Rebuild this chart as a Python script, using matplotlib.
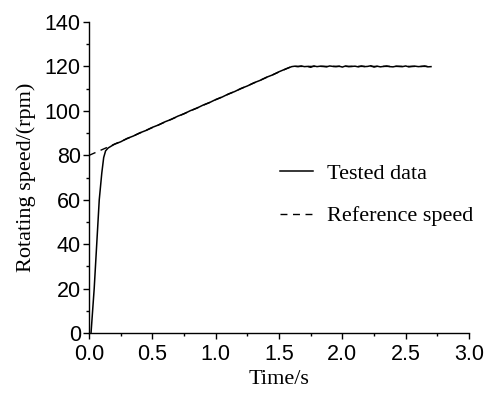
import matplotlib
matplotlib.use("Agg")
import matplotlib.pyplot as plt

# reference speed profile
ref_t = [0.0, 1.6, 2.7]
ref_v = [80.0, 120.0, 120.0]

# tested data
test_t = [0.015, 0.04, 0.06, 0.08, 0.10, 0.115, 0.13, 0.15,
          0.20, 0.25, 0.30, 0.35, 0.40, 0.45, 0.50, 0.55, 0.60, 0.65,
          0.70, 0.75, 0.80, 0.85, 0.90, 0.95, 1.00, 1.05, 1.10, 1.15,
          1.20, 1.25, 1.30, 1.35, 1.40, 1.45, 1.50, 1.55, 1.60,
          1.625, 1.65, 1.675, 1.70, 1.725, 1.75, 1.775, 1.80, 1.825, 1.85,
          1.875, 1.90, 1.925, 1.95, 1.975, 2.00, 2.025, 2.05, 2.075, 2.10,
          2.125, 2.15, 2.175, 2.20, 2.225, 2.25, 2.275, 2.30, 2.325, 2.35,
          2.375, 2.40, 2.425, 2.45, 2.475, 2.50, 2.525, 2.55, 2.575, 2.60,
          2.625, 2.65, 2.675, 2.70]
test_v = [0.0, 20.0, 40.0, 60.0, 72.0, 79.0, 82.0, 83.3,
          85.0, 86.1, 87.6, 88.7, 90.1, 91.2, 92.6, 93.7, 95.1, 96.2,
          97.6, 98.7, 100.1, 101.2, 102.6, 103.7, 105.1, 106.2, 107.6, 108.7,
          110.1, 111.2, 112.6, 113.7, 115.1, 116.2, 117.6, 118.8, 119.9,
          120.1, 119.9, 120.2, 119.9, 120.0, 119.6, 120.2, 119.9, 120.1, 120.0,
          119.8, 120.2, 120.0, 119.9, 120.1, 119.7, 120.2, 119.9, 120.0, 120.1,
          119.8, 120.2, 119.9, 120.0, 120.3, 119.7, 120.1, 119.8, 120.0, 120.2,
          119.9, 119.8, 120.1, 120.0, 119.9, 120.2, 119.8, 120.0, 120.1, 119.9,
          120.0, 120.2, 119.8, 119.9]

x_ticks = [0.0, 0.5, 1.0, 1.5, 2.0, 2.5, 3.0]
y_ticks = [0, 20, 40, 60, 80, 100, 120, 140]

sans = "Liberation Sans"
serif = "Liberation Serif"

fig = plt.figure(figsize=(4.87, 3.99), dpi=100)
ax = fig.add_axes([0.183, 0.165, 0.780, 0.780])

ax.plot(ref_t, ref_v, color="black", lw=1.0, ls=(0, (5, 4)), label="Reference speed", zorder=2)
ax.plot(test_t, test_v, color="black", lw=1.1, label="Tested data", zorder=3)

ax.set_xlim(0, 3.0)
ax.set_ylim(0, 140)
ax.set_xticks(x_ticks)
ax.set_yticks(y_ticks)
ax.set_xticklabels(["%.1f" % v for v in x_ticks], family=sans, fontsize=15.5)
ax.set_yticklabels([str(v) for v in y_ticks], family=sans, fontsize=15.5)
ax.set_xticks([0.25, 0.75, 1.25, 1.75, 2.25, 2.75], minor=True)
ax.set_yticks([10, 30, 50, 70, 90, 110, 130], minor=True)

for s in ["top", "right"]:
    ax.spines[s].set_visible(False)
for s in ["left", "bottom"]:
    ax.spines[s].set_linewidth(1.0)

ax.tick_params(which="major", direction="out", length=4.5, width=1.0)
ax.tick_params(which="minor", direction="out", length=2.5, width=1.0)
ax.tick_params(axis="y", pad=1.5)
ax.tick_params(axis="x", pad=3)

ax.set_xlabel("Time/s", family=serif, fontsize=16, labelpad=4)
ax.set_ylabel("Rotating speed/(rpm)", family=serif, fontsize=16, labelpad=6)

handles, labels = ax.get_legend_handles_labels()
leg = ax.legend(handles[::-1], labels[::-1], loc="upper left", bbox_to_anchor=(0.473, 0.582),
                frameon=False, prop={"family": serif, "size": 16},
                handlelength=1.5, handletextpad=0.6, labelspacing=1.0, borderpad=0)

fig.savefig("out.png", dpi=100)
